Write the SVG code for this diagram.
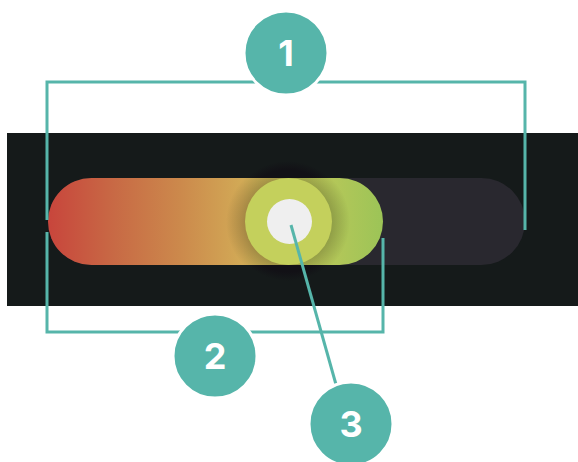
<svg xmlns="http://www.w3.org/2000/svg" width="578" height="462" viewBox="0 0 578 462">
<defs>
<style>
.ln{fill:none;stroke:#56b5aa;stroke-width:3}
.badge{fill:#56b5aa;stroke:#ffffff;stroke-width:3}
.num{fill:#ffffff;font-family:Inter,"Open Sans","Liberation Sans",sans-serif;font-weight:700;font-size:36px;text-anchor:middle}
</style>
<linearGradient id="fillg" x1="48" y1="0" x2="383" y2="0" gradientUnits="userSpaceOnUse">
<stop offset="0" stop-color="#c8453c"/>
<stop offset="0.2" stop-color="#c86a45"/>
<stop offset="0.4" stop-color="#cc8a4c"/>
<stop offset="0.58" stop-color="#d2aa56"/>
<stop offset="0.75" stop-color="#c4c95a"/>
<stop offset="1" stop-color="#9cc457"/>
</linearGradient>
<radialGradient id="shadow" cx="288" cy="222" r="62" gradientUnits="userSpaceOnUse">
<stop offset="0.68" stop-color="#000" stop-opacity="0.22"/>
<stop offset="1" stop-color="#000" stop-opacity="0"/>
</radialGradient>
<radialGradient id="shadowbg" cx="288" cy="221" r="60" gradientUnits="userSpaceOnUse">
<stop offset="0.85" stop-color="#121116" stop-opacity="1"/>
<stop offset="1" stop-color="#121116" stop-opacity="0"/>
</radialGradient>
<clipPath id="trk"><rect x="48" y="178" width="477" height="87" rx="43.5"/></clipPath>
</defs>
<g id="slider">
<rect x="7" y="133" width="571" height="173" fill="#151a1a"/>
<circle cx="288" cy="221" r="60" fill="url(#shadowbg)"/>
<rect x="48" y="178" width="477" height="87" rx="43.5" fill="#29282f"/>
<rect x="48" y="178" width="335" height="87" rx="43.5" fill="url(#fillg)"/>
<circle cx="288" cy="222" r="62" fill="url(#shadow)" clip-path="url(#trk)"/>
<circle cx="288.5" cy="221.5" r="43.5" fill="#c4d05c"/>
<circle cx="289.5" cy="221.5" r="22.5" fill="#efefef"/>
</g>
<g id="connectors">
<polyline class="ln" points="47,220 47,82 525,82 525,230"/>
<polyline class="ln" points="47,232 47,332 383,332 383,238"/>
<line class="ln" x1="291" y1="225" x2="337" y2="388"/>
</g>
<g id="n1"><circle class="badge" cx="286" cy="53" r="42"/><text class="num" x="286" y="66">1</text></g>
<g id="n2"><circle class="badge" cx="215" cy="356" r="42"/><text class="num" x="215" y="369">2</text></g>
<g id="n3"><circle class="badge" cx="351" cy="424" r="42"/><text class="num" x="351" y="437">3</text></g>
</svg>
